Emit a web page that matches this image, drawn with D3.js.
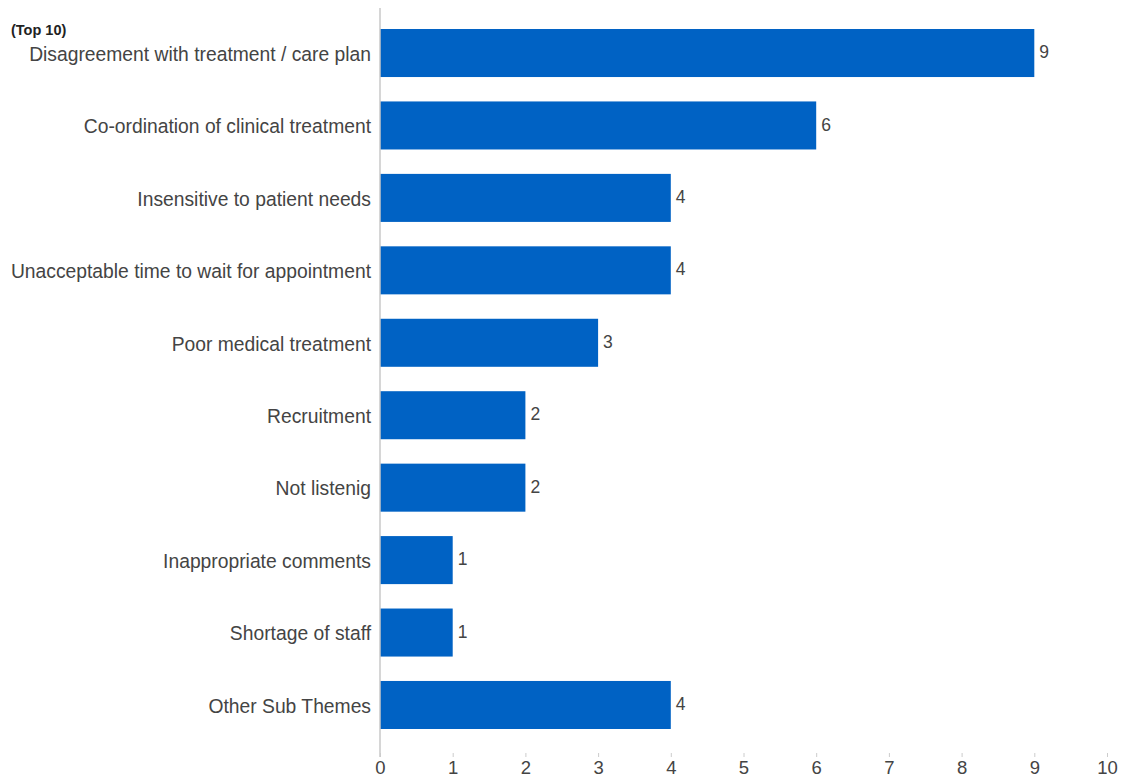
<!DOCTYPE html>
<html>
<head>
<meta charset="utf-8">
<script src="https://d3js.org/d3.v7.min.js"></script>
<style>
  body { margin: 0; background: #fff; }
  text { font-family: "Liberation Sans", Arial, sans-serif; }
</style>
</head>
<body>
<div id="chart"></div>
<script>
var themes = ["Disagreement with treatment / care plan", "Co-ordination of clinical treatment",
  "Insensitive to patient needs", "Unacceptable time to wait for appointment",
  "Poor medical treatment", "Recruitment", "Not listenig", "Inappropriate comments",
  "Shortage of staff", "Other Sub Themes"];
var counts = [9, 6, 4, 4, 3, 2, 2, 1, 1, 4];
var xTicks = [0, 1, 2, 3, 4, 5, 6, 7, 8, 9, 10];

var width = 1130, height = 778;
// note: "top" is a reserved window property, so use plot* names
var plotLeft = 380, plotRight = 1107, plotTop = 16.8, plotBottom = 741.2;

var svg = d3.select("#chart").append("svg")
  .attr("width", width)
  .attr("height", height);

var x = d3.scaleLinear().domain([0, 10]).range([plotLeft, plotRight]);
var y = d3.scaleBand().domain(themes).range([plotTop, plotBottom]).paddingInner(0.337).paddingOuter(0.1685);

// bars
svg.selectAll("rect.bar").data(themes)
  .enter().append("rect")
  .attr("class", "bar")
  .attr("x", x(0))
  .attr("y", function(d) { return y(d); })
  .attr("width", function(d, i) { return x(counts[i]) - x(0); })
  .attr("height", y.bandwidth())
  .attr("fill", "#0062c4");

// value labels
svg.selectAll("text.val").data(themes)
  .enter().append("text")
  .attr("class", "val")
  .attr("x", function(d, i) { return x(counts[i]) + 5; })
  .attr("y", function(d) { return y(d) + y.bandwidth() / 2 - 1; })
  .attr("dy", "0.35em")
  .attr("font-size", 17.5)
  .attr("fill", "#444")
  .text(function(d, i) { return counts[i]; });

// category labels
svg.selectAll("text.cat").data(themes)
  .enter().append("text")
  .attr("class", "cat")
  .attr("x", plotLeft - 9)
  .attr("y", function(d) { return y(d) + y.bandwidth() / 2 + 1; })
  .attr("dy", "0.35em")
  .attr("text-anchor", "end")
  .attr("font-size", 19.3)
  .attr("fill", "#444")
  .text(function(d) { return d; });

// vertical baseline
svg.append("line")
  .attr("x1", x(0)).attr("x2", x(0))
  .attr("y1", 8).attr("y2", 757)
  .attr("stroke", "#c8c8c8")
  .attr("stroke-width", 1.5);

// x axis
var xAxis = d3.axisBottom(x).tickValues(xTicks).tickSize(4).tickPadding(4);
var gx = svg.append("g")
  .attr("transform", "translate(0,753)")
  .call(xAxis);
gx.select(".domain").remove();
gx.selectAll(".tick line").attr("stroke", "#ccc");
gx.selectAll(".tick text")
  .attr("font-size", 18.5)
  .attr("fill", "#444")
  .style("font-family", "'Liberation Sans', Arial, sans-serif");

// heading
svg.append("text")
  .attr("x", 11)
  .attr("y", 35)
  .attr("font-size", 14.5)
  .attr("font-weight", "bold")
  .attr("fill", "#222")
  .text("(Top 10)");
</script>
</body>
</html>
